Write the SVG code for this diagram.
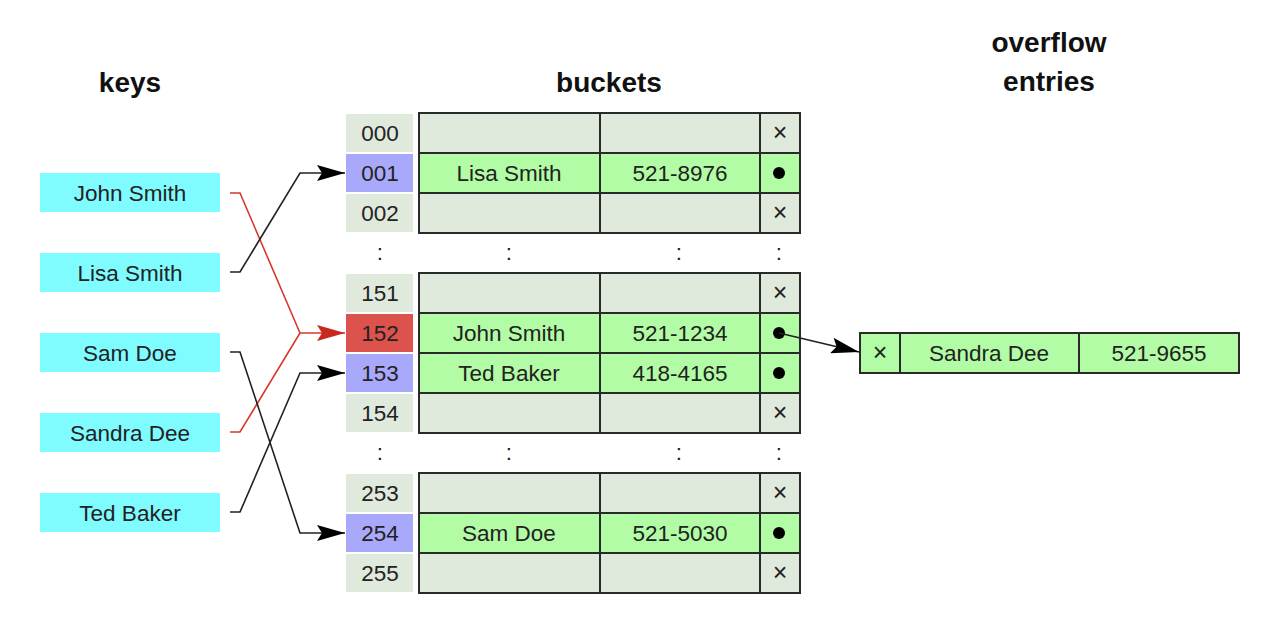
<svg xmlns="http://www.w3.org/2000/svg" width="1284" height="638" viewBox="0 0 1284 638">
  <style>
    text { font-family: "Liberation Sans", Arial, sans-serif; fill: #222; }
    .title { font-size: 28px; font-weight: bold; text-anchor: middle; fill: #111; }
    .lbl { font-size: 22.5px; text-anchor: middle; dominant-baseline: central; }
    .key { fill: #7ffcff; }
    .idx { fill: #dfe9dc; }
    .idx-b { fill: #a9a9fb; }
    .idx-r { fill: #dc534d; }
    .empty { fill: #dfe9dc; stroke: #2a2a2a; stroke-width: 2; }
    .full { fill: #b2fca5; stroke: #2a2a2a; stroke-width: 2; }
    .x { font-size: 25px; text-anchor: middle; dominant-baseline: central; }
    .dot { fill: #000; }
    .link { fill: none; stroke: #222; stroke-width: 1.6; }
    .link-r { fill: none; stroke: #d63a2f; stroke-width: 1.6; }
  </style>
  <defs>
    <marker id="ah" viewBox="0 0 28 16" refX="28" refY="8" markerWidth="28" markerHeight="16" markerUnits="userSpaceOnUse" orient="auto">
      <path d="M0,0 L28,8 L0,16 L5,8 Z" fill="#000"/>
    </marker>
    <marker id="ah-r" viewBox="0 0 28 16" refX="28" refY="8" markerWidth="28" markerHeight="16" markerUnits="userSpaceOnUse" orient="auto">
      <path d="M0,0 L28,8 L0,16 L5,8 Z" fill="#c8281e"/>
    </marker>
  </defs>
  <rect width="1284" height="638" fill="#fff"/>

  <!-- column headings -->
  <g id="titles">
    <text class="title" x="130" y="92">keys</text>
    <text class="title" x="609" y="92">buckets</text>
    <text class="title" x="1049" y="52">overflow</text>
    <text class="title" x="1049" y="91">entries</text>
  </g>

  <!-- keys -->
  <g id="key-john">
    <rect class="key" x="40" y="173" width="180" height="39"/>
    <text class="lbl" x="130" y="193">John Smith</text>
  </g>
  <g id="key-lisa">
    <rect class="key" x="40" y="253" width="180" height="39"/>
    <text class="lbl" x="130" y="273">Lisa Smith</text>
  </g>
  <g id="key-sam">
    <rect class="key" x="40" y="333" width="180" height="39"/>
    <text class="lbl" x="130" y="353">Sam Doe</text>
  </g>
  <g id="key-sandra">
    <rect class="key" x="40" y="413" width="180" height="39"/>
    <text class="lbl" x="130" y="433">Sandra Dee</text>
  </g>
  <g id="key-ted">
    <rect class="key" x="40" y="493" width="180" height="39"/>
    <text class="lbl" x="130" y="513">Ted Baker</text>
  </g>

  <!-- bucket indices -->
  <g id="indices">
    <rect class="idx" x="346" y="114" width="67" height="38"/><text class="lbl" x="380" y="133">000</text>
    <rect class="idx-b" x="346" y="154" width="67" height="38"/><text class="lbl" x="380" y="173">001</text>
    <rect class="idx" x="346" y="194" width="67" height="38"/><text class="lbl" x="380" y="213">002</text>
    <rect class="idx" x="346" y="274" width="67" height="38"/><text class="lbl" x="380" y="293">151</text>
    <rect class="idx-r" x="346" y="314" width="67" height="38"/><text class="lbl" x="380" y="333">152</text>
    <rect class="idx-b" x="346" y="354" width="67" height="38"/><text class="lbl" x="380" y="373">153</text>
    <rect class="idx" x="346" y="394" width="67" height="38"/><text class="lbl" x="380" y="413">154</text>
    <rect class="idx" x="346" y="474" width="67" height="38"/><text class="lbl" x="380" y="493">253</text>
    <rect class="idx-b" x="346" y="514" width="67" height="38"/><text class="lbl" x="380" y="533">254</text>
    <rect class="idx" x="346" y="554" width="67" height="38"/><text class="lbl" x="380" y="573">255</text>
  </g>

  <!-- bucket block 000-002 -->
  <g id="bucket-000">
    <rect class="empty" x="419" y="113" width="181" height="40"/>
    <rect class="empty" x="600" y="113" width="160" height="40"/>
    <rect class="empty" x="760" y="113" width="40" height="40"/>
    <text class="x" x="780" y="132">×</text>
  </g>
  <g id="bucket-001">
    <rect class="full" x="419" y="153" width="181" height="40"/>
    <rect class="full" x="600" y="153" width="160" height="40"/>
    <rect class="full" x="760" y="153" width="40" height="40"/>
    <text class="lbl" x="509" y="173">Lisa Smith</text>
    <text class="lbl" x="680" y="173">521-8976</text>
    <circle class="dot" cx="779" cy="173" r="6"/>
  </g>
  <g id="bucket-002">
    <rect class="empty" x="419" y="193" width="181" height="40"/>
    <rect class="empty" x="600" y="193" width="160" height="40"/>
    <rect class="empty" x="760" y="193" width="40" height="40"/>
    <text class="x" x="780" y="212">×</text>
  </g>

  <!-- bucket block 151-154 -->
  <g id="bucket-151">
    <rect class="empty" x="419" y="273" width="181" height="40"/>
    <rect class="empty" x="600" y="273" width="160" height="40"/>
    <rect class="empty" x="760" y="273" width="40" height="40"/>
    <text class="x" x="780" y="292">×</text>
  </g>
  <g id="bucket-152">
    <rect class="full" x="419" y="313" width="181" height="40"/>
    <rect class="full" x="600" y="313" width="160" height="40"/>
    <rect class="full" x="760" y="313" width="40" height="40"/>
    <text class="lbl" x="509" y="333">John Smith</text>
    <text class="lbl" x="680" y="333">521-1234</text>
    <circle class="dot" cx="779" cy="333" r="6"/>
  </g>
  <g id="bucket-153">
    <rect class="full" x="419" y="353" width="181" height="40"/>
    <rect class="full" x="600" y="353" width="160" height="40"/>
    <rect class="full" x="760" y="353" width="40" height="40"/>
    <text class="lbl" x="509" y="373">Ted Baker</text>
    <text class="lbl" x="680" y="373">418-4165</text>
    <circle class="dot" cx="779" cy="373" r="6"/>
  </g>
  <g id="bucket-154">
    <rect class="empty" x="419" y="393" width="181" height="40"/>
    <rect class="empty" x="600" y="393" width="160" height="40"/>
    <rect class="empty" x="760" y="393" width="40" height="40"/>
    <text class="x" x="780" y="412">×</text>
  </g>

  <!-- bucket block 253-255 -->
  <g id="bucket-253">
    <rect class="empty" x="419" y="473" width="181" height="40"/>
    <rect class="empty" x="600" y="473" width="160" height="40"/>
    <rect class="empty" x="760" y="473" width="40" height="40"/>
    <text class="x" x="780" y="492">×</text>
  </g>
  <g id="bucket-254">
    <rect class="full" x="419" y="513" width="181" height="40"/>
    <rect class="full" x="600" y="513" width="160" height="40"/>
    <rect class="full" x="760" y="513" width="40" height="40"/>
    <text class="lbl" x="509" y="533">Sam Doe</text>
    <text class="lbl" x="680" y="533">521-5030</text>
    <circle class="dot" cx="779" cy="533" r="6"/>
  </g>
  <g id="bucket-255">
    <rect class="empty" x="419" y="553" width="181" height="40"/>
    <rect class="empty" x="600" y="553" width="160" height="40"/>
    <rect class="empty" x="760" y="553" width="40" height="40"/>
    <text class="x" x="780" y="572">×</text>
  </g>

  <!-- elided rows -->
  <g id="ellipsis">
    <text class="lbl" x="380" y="252">:</text>
    <text class="lbl" x="509" y="252">:</text>
    <text class="lbl" x="679" y="252">:</text>
    <text class="lbl" x="779" y="252">:</text>
    <text class="lbl" x="380" y="452">:</text>
    <text class="lbl" x="509" y="452">:</text>
    <text class="lbl" x="679" y="452">:</text>
    <text class="lbl" x="779" y="452">:</text>
  </g>

  <!-- overflow entry -->
  <g id="overflow-sandra">
    <rect class="full" x="860" y="333" width="40" height="40"/>
    <rect class="full" x="900" y="333" width="179" height="40"/>
    <rect class="full" x="1079" y="333" width="160" height="40"/>
    <text class="x" x="880" y="352">×</text>
    <text class="lbl" x="989" y="353">Sandra Dee</text>
    <text class="lbl" x="1159" y="353">521-9655</text>
  </g>

  <!-- connectors -->
  <g id="connectors">
    <path class="link-r" d="M230,193 H240 L300,333 H345" marker-end="url(#ah-r)"/>
    <path class="link-r" d="M230,432 H240 L300,333"/>
    <path class="link" d="M230,272 H240 L300,173 H345" marker-end="url(#ah)"/>
    <path class="link" d="M230,352 H240 L300,533 H345" marker-end="url(#ah)"/>
    <path class="link" d="M230,512 H240 L300,373 H345" marker-end="url(#ah)"/>
    <path class="link" d="M779,333 L859,352" marker-end="url(#ah)"/>
  </g>
</svg>
